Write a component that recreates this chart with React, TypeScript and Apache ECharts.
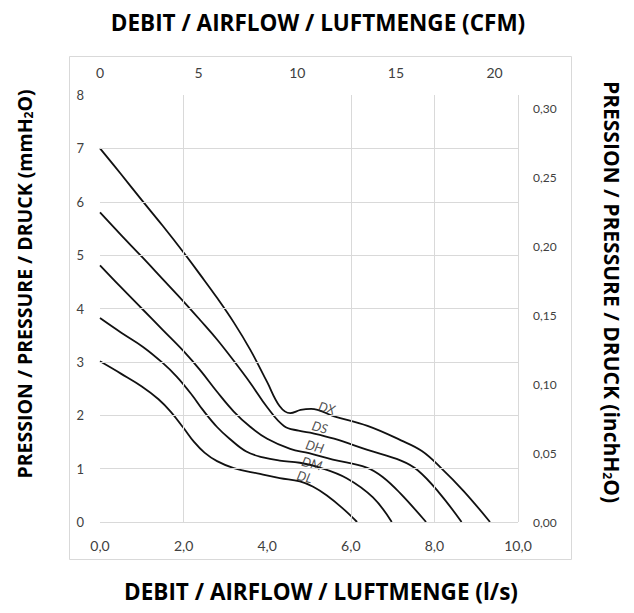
import React, { useEffect, useRef } from "react";
import * as echarts from "echarts";

// Airflow in l/s, pressure in mmH2O
const curveNames = ["DX", "DS", "DH", "DM", "DL"];
const curveDX = [[0, 7.0], [0.5, 6.52], [1.0, 6.03], [1.5, 5.55], [2.0, 5.05], [2.4, 4.63], [2.8, 4.2], [3.2, 3.74], [3.6, 3.22], [4.0, 2.62], [4.3, 2.17], [4.55, 2.04], [4.8, 2.1], [5.05, 2.12], [5.6, 1.98], [6.4, 1.8], [7.2, 1.53], [7.7, 1.33], [8.15, 1.02], [8.7, 0.58], [9.33, 0]];
const curveDS = [[0, 5.8], [0.5, 5.38], [1.0, 4.97], [1.5, 4.55], [2.0, 4.13], [2.4, 3.78], [2.8, 3.42], [3.2, 3.02], [3.6, 2.6], [4.0, 2.15], [4.4, 1.8], [4.75, 1.71], [5.1, 1.66], [5.6, 1.56], [6.4, 1.35], [7.2, 1.15], [7.6, 0.97], [8.1, 0.56], [8.65, 0]];
const curveDH = [[0, 4.81], [0.5, 4.4], [1.0, 4.0], [1.5, 3.6], [2.0, 3.2], [2.4, 2.84], [2.8, 2.44], [3.2, 2.07], [3.6, 1.78], [4.0, 1.56], [4.55, 1.37], [5.0, 1.29], [5.57, 1.17], [6.38, 1.02], [6.77, 0.84], [7.18, 0.54], [7.8, 0]];
const curveDM = [[0, 3.82], [0.5, 3.55], [1.03, 3.28], [1.5, 2.98], [1.84, 2.72], [2.2, 2.38], [2.46, 2.1], [2.8, 1.78], [3.1, 1.56], [3.5, 1.32], [3.9, 1.21], [4.3, 1.15], [4.78, 1.11], [5.26, 1.02], [5.9, 0.82], [6.53, 0.46], [6.98, 0]];
const curveDL = [[0, 3.01], [0.5, 2.78], [1.0, 2.54], [1.4, 2.3], [1.7, 2.06], [2.0, 1.76], [2.25, 1.5], [2.5, 1.3], [2.8, 1.14], [3.2, 1.01], [3.83, 0.9], [4.3, 0.82], [4.78, 0.76], [5.1, 0.66], [5.42, 0.5], [5.8, 0.26], [6.15, 0]];
const curves = [curveDX, curveDS, curveDH, curveDM, curveDL];

// curve name label anchors (l/s, mmH2O)
const labelFlow = [5.43, 5.26, 5.14, 5.07, 4.9];
const labelPressure = [2.14, 1.78, 1.42, 1.1, 0.85];

// gridlines
const gridPressure = [0, 1, 2, 3, 4, 5, 6, 7];
const gridFlow = [2, 6, 8, 10];

// axes
const flowMax = 10; // l/s
const flowInterval = 2;
const cfmPerLs = 2.1189;
const cfmInterval = 5;
const pressureMax = 8; // mmH2O
const inchMax = 0.31;
const inchInterval = 0.05;

const topTitle = "DEBIT / AIRFLOW / LUFTMENGE (CFM)";
const bottomTitle = "DEBIT / AIRFLOW / LUFTMENGE (l/s)";
const leftTitle = "PRESSION / PRESSURE / DRUCK (mmH{s|2}O)";
const rightTitle = "PRESSION / PRESSURE / DRUCK (inchH{s|2}O)";

const FONT = "Lato, 'Open Sans', sans-serif";
const TITLE_FONT = "'Open Sans', sans-serif";
const LABEL_COLOR = "#404040";

export default function App() {
  const ref = useRef<HTMLDivElement>(null);
  useEffect(() => {
    const chart = echarts.init(ref.current!, null, { renderer: "svg" });
    const titleStyle = {
      fontFamily: TITLE_FONT,
      fontWeight: "bold",
      fontSize: 22.5,
      fill: "#000",
      align: "center",
      verticalAlign: "middle",
    };
    const rich = {
      s: { fontFamily: TITLE_FONT, fontWeight: "bold", fontSize: 12, verticalAlign: "bottom", padding: [8, 0, 0, 0] },
    };
    const option: any = {
      animation: false,
      grid: { left: 100, right: 116, top: 95, bottom: 91 },
      xAxis: [
        {
          type: "value",
          position: "bottom",
          min: 0,
          max: flowMax,
          interval: flowInterval,
          axisLine: { show: false },
          axisTick: { show: false },
          splitLine: { show: false },
          axisLabel: {
            margin: 16,
            fontFamily: FONT,
            fontSize: 14,
            color: LABEL_COLOR,
            formatter: (v: number) => v.toFixed(1).replace(".", ","),
          },
        },
        {
          type: "value",
          position: "top",
          min: 0,
          max: flowMax * cfmPerLs,
          interval: cfmInterval,
          axisLine: { show: false },
          axisTick: { show: false },
          splitLine: { show: false },
          axisLabel: {
            margin: 16,
            fontFamily: FONT,
            fontSize: 14,
            color: LABEL_COLOR,
            showMaxLabel: false,
          },
        },
      ],
      yAxis: [
        {
          type: "value",
          position: "left",
          min: 0,
          max: pressureMax,
          interval: 1,
          axisLine: { show: false },
          axisTick: { show: false },
          splitLine: { show: false },
          axisLabel: { margin: 16, fontFamily: FONT, fontSize: 13, color: LABEL_COLOR },
        },
        {
          type: "value",
          position: "right",
          min: 0,
          max: inchMax,
          interval: inchInterval,
          axisLine: { show: false },
          axisTick: { show: false },
          splitLine: { show: false },
          axisLabel: {
            margin: 15,
            fontFamily: FONT,
            fontSize: 12,
            color: LABEL_COLOR,
            showMaxLabel: false,
            formatter: (v: number) => v.toFixed(2).replace(".", ","),
          },
        },
      ],
      graphic: [
        {
          type: "rect",
          z: -10,
          shape: { x: 69.5, y: 56.5, width: 502, height: 503 },
          style: { fill: "none", stroke: "#d9d9d9", lineWidth: 1 },
        },
        { type: "text", x: 318, y: 22, style: { ...titleStyle, text: topTitle } },
        { type: "text", x: 321, y: 591, style: { ...titleStyle, text: bottomTitle } },
        { type: "text", x: 24, y: 284, rotation: Math.PI / 2, style: { ...titleStyle, fontSize: 19.5, text: leftTitle, rich } },
        { type: "text", x: 612, y: 292, rotation: -Math.PI / 2, style: { ...titleStyle, fontSize: 21, text: rightTitle, rich } },
      ],
      series: [
        {
          type: "line",
          data: [[0, 0]],
          symbol: "none",
          lineStyle: { opacity: 0 },
          silent: true,
          z: 1,
          markLine: {
            silent: true,
            symbol: "none",
            label: { show: false },
            lineStyle: { color: "#d9d9d9", type: "solid", width: 1 },
            data: [
              ...gridPressure.map((v) => ({ yAxis: v })),
              ...gridFlow.map((v) => ({ xAxis: v })),
            ],
          },
        },
        ...curves.map((c, i) => ({
          name: curveNames[i],
          type: "line",
          data: c,
          smooth: 0.4,
          symbol: "none",
          z: 3,
          lineStyle: { color: "#111", width: 1.8 },
        })),
        {
          type: "scatter",
          z: 4,
          symbolSize: 0,
          data: curveNames.map((n, i) => ({ name: n, value: [labelFlow[i], labelPressure[i]] })),
          label: {
            show: true,
            position: "inside",
            formatter: (p: any) => p.name,
            rotate: -15,
            fontFamily: FONT,
            fontStyle: "italic",
            fontSize: 13,
            color: "#262626",
          },
        },
      ],
    };
    chart.setOption(option);
    return () => chart.dispose();
  }, []);
  return (
    <div
      ref={ref}
      style={{ position: "fixed", left: 0, top: 0, width: 634, height: 613, background: "#fff" }}
    />
  );
}
